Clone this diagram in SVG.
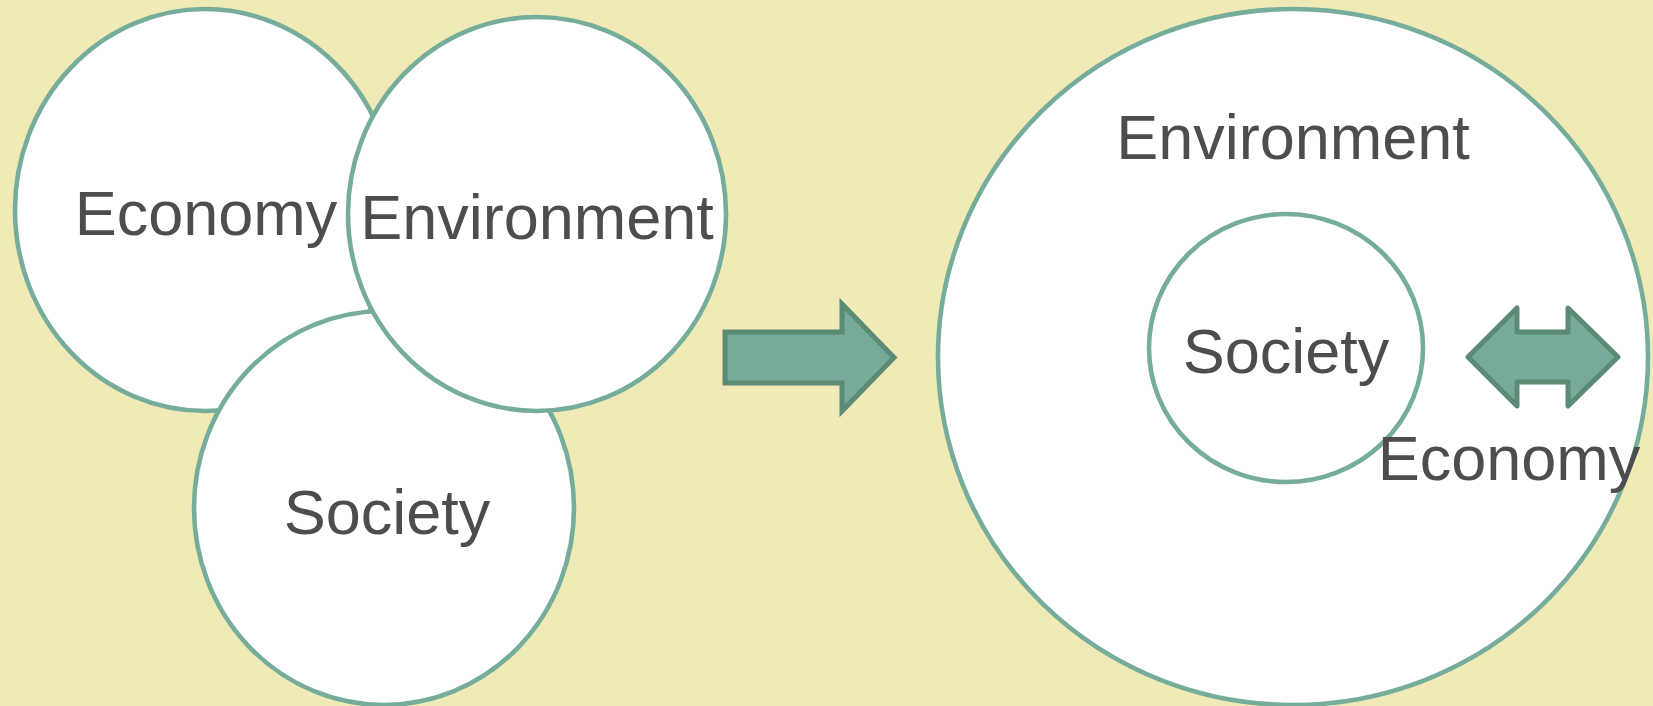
<svg xmlns="http://www.w3.org/2000/svg" width="1653" height="706" viewBox="0 0 1653 706">
<style>
.c{fill:#ffffff;stroke:#76ad9a;stroke-width:4.6}
.t{font-family:"Liberation Sans",Arial,sans-serif;font-size:63px;fill:#4d4d4d;text-anchor:middle}
.a{fill:#75ab98;stroke:#5b8a75;stroke-width:5}
</style>
<rect width="1653" height="706" fill="#f0eab6"/>
<g id="left-economy">
<ellipse class="c" cx="205" cy="210" rx="190" ry="201"/>
<text class="t" x="206" y="235">Economy</text>
</g>
<g id="left-society">
<ellipse class="c" cx="384" cy="508" rx="190" ry="197"/>
<text class="t" x="387" y="534">Society</text>
</g>
<g id="left-environment">
<ellipse class="c" cx="537" cy="214" rx="189" ry="197"/>
<text class="t" x="537" y="239">Environment</text>
</g>
<g id="right-environment">
<ellipse class="c" cx="1293" cy="357" rx="355" ry="348"/>
<text class="t" x="1293" y="159">Environment</text>
</g>
<g id="right-society">
<ellipse class="c" cx="1286" cy="348" rx="137" ry="134"/>
<text class="t" x="1286" y="373">Society</text>
</g>
<g id="right-economy">
<text class="t" x="1509" y="480">Economy</text>
</g>
<g id="connectors">
<path class="a" stroke-linejoin="miter" d="M725,332 H842 V304 L894,357.5 L842,411 V383 H725 Z"/>
<path class="a" stroke-linejoin="round" d="M1468,357 L1517,308 V332 H1568 V308 L1618,357 L1568,406 V382 H1517 V406 Z"/>
</g>
</svg>
